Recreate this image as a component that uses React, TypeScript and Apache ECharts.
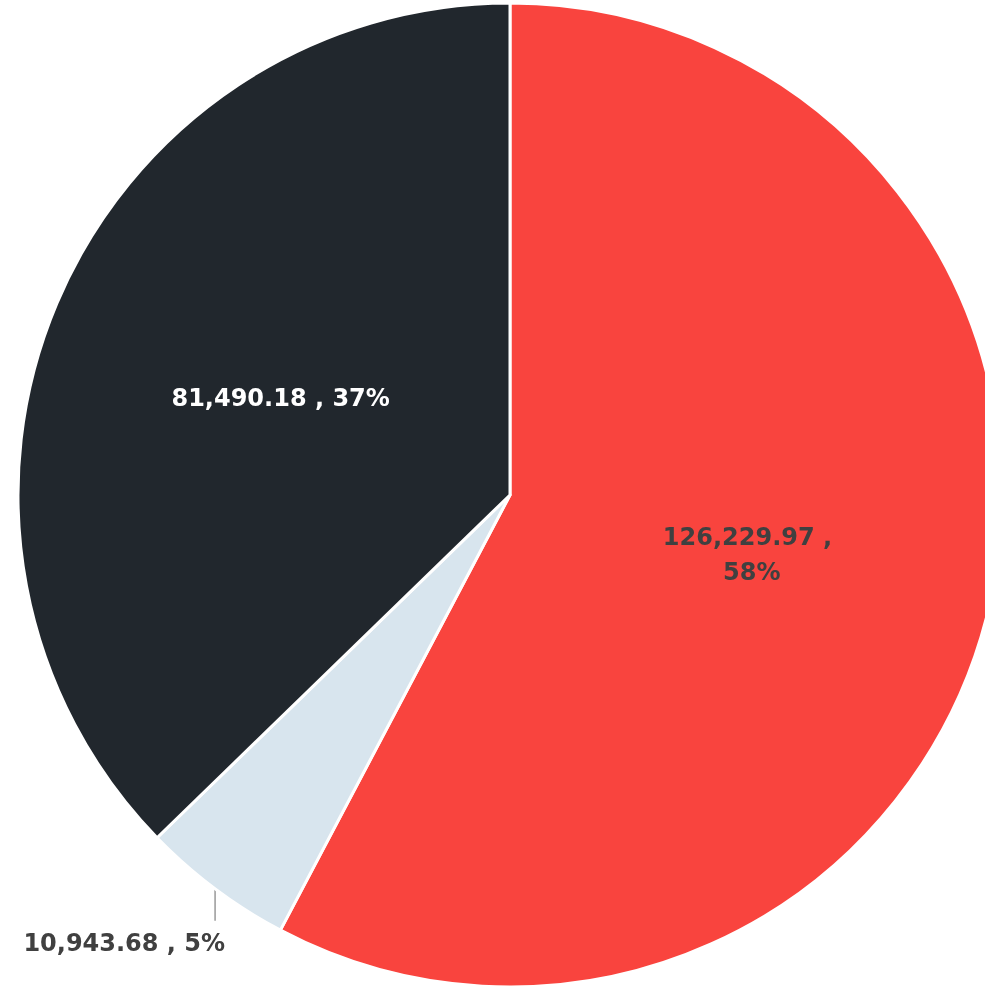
import React, { useEffect, useRef } from "react";
import * as echarts from "echarts";

const categories = ["A", "B", "C"];
const values = [126229.97, 10943.68, 81490.18];
const colors = ["#F9443E", "#D8E5EE", "#21272D"];
const labelColors = ["#404040", "#404040", "#FFFFFF"];

const fmt = (v: number) =>
  v.toLocaleString("en-US", { minimumFractionDigits: 2, maximumFractionDigits: 2 });

export default function App() {
  const ref = useRef<HTMLDivElement>(null);
  useEffect(() => {
    if (!ref.current) return;
    const chart = echarts.init(ref.current, undefined, { renderer: "svg" });
    const total = values.reduce((a, b) => a + b, 0);
    chart.setOption({
      animation: false,
      series: [
        {
          type: "pie",
          center: [510, 495],
          radius: 492,
          startAngle: 90,
          clockwise: true,
          percentPrecision: 0,
          itemStyle: { borderColor: "#fff", borderWidth: 3 },
          label: {
            fontFamily: "DejaVu Sans",
            fontWeight: "bold",
            fontSize: 24,
            lineHeight: 35,
            width: 226,
            overflow: "break",
            align: "center",
          },
          labelLayout: (params: any) => {
            if (params.dataIndex !== 1 || !params.labelLinePoints) return {};
            const p0 = params.labelLinePoints[0];
            const p1 = [p0[0], p0[1] + 32];
            return {
              x: p0[0] + 10,
              y: p1[1] + 22,
              align: "right",
              verticalAlign: "middle",
              labelLinePoints: [p0, p1, p1],
            };
          },
          data: categories.map((c, i) => {
            const pct = Math.round((values[i] / total) * 100);
            const inside = i !== 1;
            return {
              name: c,
              value: values[i],
              itemStyle: { color: colors[i] },
              label: {
                show: true,
                position: inside ? "inside" : "outside",
                color: labelColors[i],
                formatter: `${fmt(values[i])} , ${pct}%`,
              },
              labelLine: {
                show: !inside,
                length: 30,
                length2: 0,
                lineStyle: { color: "#999", width: 1.5 },
              },
            };
          }),
        },
      ],
    });
    return () => chart.dispose();
  }, []);
  return (
    <div
      ref={ref}
      style={{ position: "fixed", left: 0, top: 0, width: 985, height: 987 }}
    />
  );
}
